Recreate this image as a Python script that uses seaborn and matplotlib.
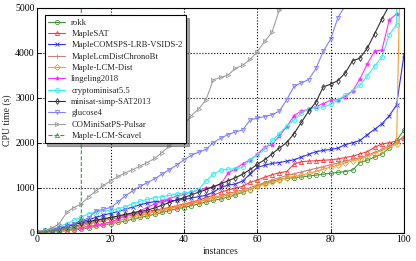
import numpy as np
import pandas as pd
import matplotlib
matplotlib.use('Agg')
import matplotlib.pyplot as plt
import seaborn as sns

# cactus data: CPU time of the k-th solved instance, read every 2 instances (x = 0, 2, 4, ...)
rokk = [5, 10, 20, 30, 45, 60, 80, 110, 140, 170, 200, 230, 260, 300, 340, 370, 410, 450, 490, 530,
        560, 600, 640, 680, 720, 750, 790, 840, 900, 960, 1030, 1100, 1140, 1180, 1210, 1220, 1240,
        1260, 1280, 1300, 1320, 1340, 1360, 1390, 1560, 1610, 1680, 1750, 1880, 2050, 2280]
maplesat = [10, 25, 45, 70, 100, 140, 180, 220, 260, 300, 330, 360, 390, 420, 440, 470, 500, 530,
            560, 600, 640, 680, 720, 780, 830, 900, 950, 990, 1030, 1120, 1170, 1230, 1290, 1330,
            1360, 1520, 1580, 1590, 1600, 1610, 1620, 1640, 1670, 1700, 1750, 1800, 1900, 1970,
            2000, 2040, 2100]
comsps = [20, 40, 70, 100, 140, 190, 240, 290, 340, 390, 430, 470, 520, 570, 620, 660, 690, 700,
          710, 720, 740, 770, 800, 830, 900, 1000, 1060, 1080, 1150, 1300, 1450, 1500, 1540, 1560,
          1590, 1620, 1680, 1740, 1800, 1830, 1850, 1880, 1960, 2000, 2050, 2180, 2300, 2420, 2600,
          2840, 3950]
chronobt = [8, 20, 38, 60, 85, 115, 150, 190, 230, 270, 300, 330, 360, 390, 420, 450, 480, 510,
            540, 570, 610, 650, 690, 730, 780, 820, 870, 910, 950, 1000, 1060, 1110, 1170, 1220,
            1270, 1310, 1350, 1390, 1430, 1470, 1510, 1550, 1590, 1630, 1670, 1720, 1790, 1850,
            1930, 2000, 2150]
lcm_dist = [10, 20, 30, 45, 60, 80, 110, 140, 170, 200, 230, 270, 310, 350, 390, 420, 460, 500,
            540, 580, 610, 650, 690, 730, 770, 800, 840, 880, 920, 960, 1030, 1080, 1120, 1170,
            1220, 1250, 1280, 1320, 1360, 1410, 1460, 1500, 1550, 1600, 1640, 1690, 1760, 1830,
            1900, 1970, 6000]
lingeling = [10, 20, 35, 50, 70, 90, 110, 140, 170, 200, 240, 300, 380, 430, 490, 560, 640, 700,
             760, 810, 850, 900, 950, 990, 1020, 1070, 1320, 1420, 1530, 1620, 1740, 1900, 1960,
             2150, 2350, 2600, 2700, 2740, 2800, 2870, 2940, 2960, 3020, 3150, 3420, 3750, 4030,
             4060, 4730, 4860]
crypto = [20, 50, 90, 140, 200, 280, 350, 420, 460, 480, 500, 530, 580, 640, 700, 740, 780, 800,
          830, 860, 880, 900, 960, 1150, 1300, 1390, 1410, 1420, 1450, 1620, 1720, 1850, 2050, 2200,
          2370, 2500, 2650, 2760, 2780, 2800, 2850, 2950, 3060, 3150, 3280, 3480, 3700, 3900, 4400,
          4620, 6000]
minisat = [20, 40, 70, 100, 140, 180, 220, 250, 280, 310, 340, 370, 410, 440, 470, 500, 550, 610,
           670, 730, 780, 840, 900, 960, 1020, 1090, 1150, 1220, 1300, 1400, 1520, 1620, 1750, 1880,
           2000, 2200, 2450, 2700, 2900, 3240, 3300, 3380, 3550, 3820, 3880, 4100, 4420, 4750, 5050]
glucose = [20, 40, 70, 110, 150, 200, 260, 330, 480, 520, 560, 680, 820, 930, 1030, 1110, 1200,
           1300, 1400, 1500, 1620, 1720, 1790, 1850, 2000, 2100, 2180, 2240, 2280, 2500, 2550, 2580,
           2620, 2700, 2950, 3250, 3330, 3400, 3650, 4030, 4300, 4780, 5050]
pulsar = [30, 60, 100, 200, 450, 560, 640, 800, 930, 1050, 1150, 1250, 1330, 1400, 1480, 1560,
          1650, 1780, 1930, 2100, 2400, 2600, 2750, 2950, 3400, 3450, 3500, 3650, 3720, 3850, 4020,
          4250, 4450, 4950, 5050]
scavel = [5, 20, 40, 70, 110, 150, 310, 6000]

# x position of the last point for curves that end with a vertical jump
last_x = {'Maple-LCM-Dist': 99, 'cryptominisat5.5': 98, 'Maple-LCM-Scavel': 12}

series = [
    ('rokk', rokk, '#3a9a3a', 'o', 'none', '-'),
    ('MapleSAT', maplesat, '#ff3b3b', '^', 'none', '-'),
    ('MapleCOMSPS-LRB-VSIDS-2', comsps, '#3030ff', 'x', None, '-'),
    ('MapleLcmDistChronoBt', chronobt, '#c48080', '+', None, '-'),
    ('Maple-LCM-Dist', lcm_dist, '#f5a030', 'D', 'none', '-'),
    ('lingeling2018', lingeling, '#ff30ff', '*', None, '-'),
    ('cryptominisat5.5', crypto, '#30f0f0', 'o', 'none', '-'),
    ('minisat-simp-SAT2013', minisat, '#303030', 'd', 'none', '-'),
    ('glucose4', glucose, '#8080ff', 'v', 'none', '-'),
    ('COMiniSatPS-Pulsar', pulsar, '#a0a0a0', '>', 'none', '-'),
    ('Maple-LCM-Scavel', scavel, '#3a9a3a', '^', 'none', '--'),
]

sns.set_style('ticks')
plt.rcParams['font.family'] = ['Liberation Serif', 'DejaVu Serif']

fig = plt.figure(figsize=(4.16, 2.61), dpi=100)
ax = fig.add_axes([0.0897, 0.1084, 0.8813, 0.8621])

for name, times, color, marker, mfc, ls in series:
    xs = list(range(0, 2 * len(times), 2))
    if name in last_x:
        xs[-1] = last_x[name]
    df = pd.DataFrame({'x': xs, 'y': times})
    kw = dict(marker=marker, markersize=3, markeredgewidth=0.6, markeredgecolor=color,
              linewidth=0.8, linestyle=ls, color=color)
    kw['markerfacecolor'] = color if mfc is None else mfc
    sns.lineplot(data=df, x='x', y='y', sort=False, estimator=None, ax=ax, label=name, **kw)

ax.set_xlim(0, 100)
ax.set_ylim(0, 5000)
ax.set_xticks([0, 20, 40, 60, 80, 100])
ax.set_yticks([0, 1000, 2000, 3000, 4000, 5000])
ax.grid(True, color='black', linestyle=':', linewidth=0.8)
for s in ax.spines.values():
    s.set_color('black')
    s.set_linewidth(0.8)
ax.tick_params(direction='in', length=3, width=0.6, labelsize=7, colors='black', pad=2)
ax.set_xlabel('instances', fontsize=7, labelpad=2)
ax.set_ylabel('CPU time (s)', fontsize=7, labelpad=2)

leg = ax.legend(loc='upper left', fontsize=6.2, frameon=True, fancybox=False, shadow=True,
                labelspacing=0.38, handlelength=2.0, borderpad=0.4, handletextpad=0.7,
                bbox_to_anchor=(0.008, 0.985))
leg.get_frame().set_edgecolor('black')
leg.get_frame().set_linewidth(0.8)
leg.get_frame().set_alpha(1)

fig.savefig('out.png', dpi=100)
